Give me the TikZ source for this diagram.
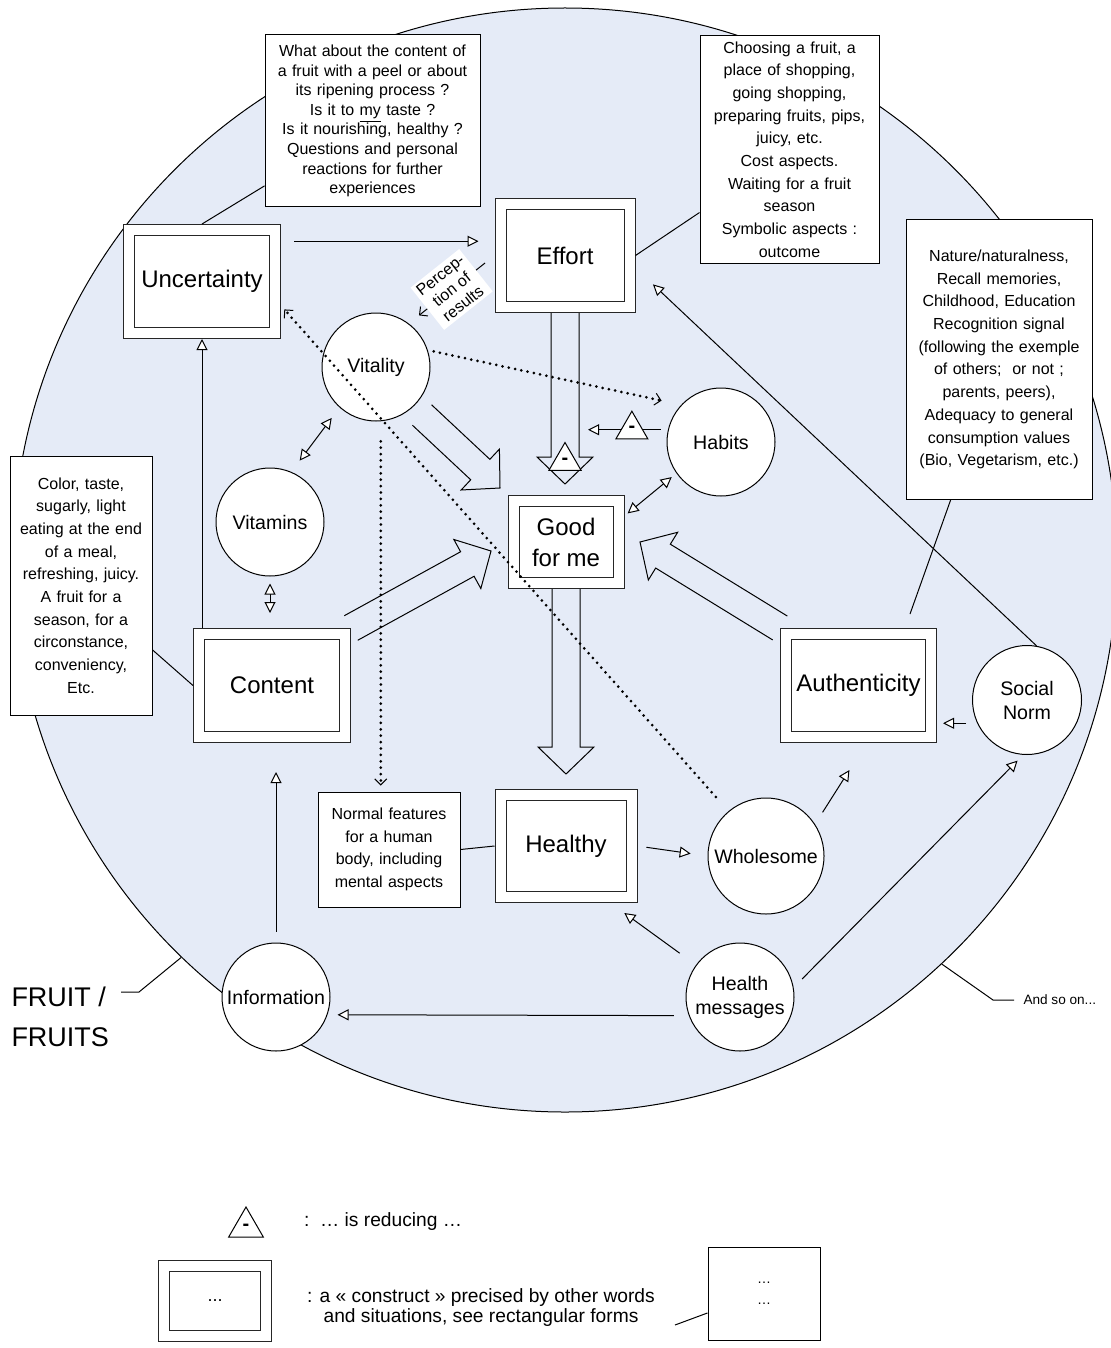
\documentclass[tikz,border=0pt]{standalone}
\usepackage{fontspec}
\setmainfont{Liberation Sans}
\usepackage{tikz}
\usetikzlibrary{shapes.geometric, arrows.meta, calc}
\definecolor{fruitblue}{RGB}{229,235,247}
\tikzstyle{note} = [rectangle, draw=black, fill=white, align=center, inner sep=3pt, font=\fontsize{8}{11.35}\selectfont]
\tikzstyle{construct} = [rectangle, draw=black!85, double, double distance=5pt, fill=white, outer sep=3pt, minimum width=73pt, minimum height=51.5pt, align=center, font=\fontsize{12}{15.5}\selectfont]
\tikzstyle{concept} = [circle, draw=black, fill=white, minimum size=54pt, inner sep=0pt, align=center, font=\fontsize{9.8}{12}\selectfont]
\tikzstyle{reducer} = [regular polygon, regular polygon sides=3, draw=black, fill=white, minimum size=18.5pt, inner sep=0pt, font=\fontsize{10}{10}\bfseries\selectfont]
\tikzstyle{arrow} = [-{Triangle[open, fill=white, length=5.5pt, width=5.5pt]}]
\tikzstyle{biarrow} = [{Triangle[open, fill=white, length=5.5pt, width=5.5pt]}-{Triangle[open, fill=white, length=5.5pt, width=5.5pt]}]
\tikzstyle{barb} = [-{Straight Barb[length=3pt, width=6pt]}]
\tikzstyle{dotarrow} = [line width=1.5pt, line cap=round, dash pattern=on 0pt off 3.2pt, -{Straight Barb[length=3pt, width=6pt, line width=0.5pt]}]
\tikzstyle{perception} = [fill=white, inner sep=1.5pt, align=center, font=\fontsize{8}{9.2}\selectfont]
% hollow block arrow, open at the tail
\newcommand{\fatarrow}[2]{%
	\coordinate (neck) at ($(#2)!13.5pt!(#1)$);
	\draw ($(#1)!7pt!90:(#2)$) -- ($(neck)!7pt!-90:(#1)$) -- ($(neck)!14pt!-90:(#1)$) -- (#2) -- ($(neck)!14pt!90:(#1)$) -- ($(neck)!7pt!90:(#1)$) -- ($(#1)!7pt!-90:(#2)$);
}

\begin{document}
\begin{tikzpicture}[x=0.5pt, y=-0.5pt, line width=0.5pt]
	\useasboundingbox (0,0) rectangle (1110,1348);
	\coordinate (fruit) at (565,560);
	\coordinate (question) at (372.5,121);
	\coordinate (choosing) at (789.5,149.5);
	\coordinate (nature) at (999,359.5);
	\coordinate (color) at (81,585.5);
	\coordinate (normal) at (389,849.5);
	\coordinate (uncertainty) at (202,281.5);
	\coordinate (effort) at (565,255.5);
	\coordinate (goodforme) at (566,542);
	\coordinate (content) at (272,685.5);
	\coordinate (authenticity) at (858.5,685.5);
	\coordinate (healthy) at (566,846);
	\coordinate (vitality) at (376,367);
	\coordinate (vitamins) at (270,522);
	\coordinate (habits) at (721,442);
	\coordinate (wholesome) at (766,856);
	\coordinate (healthmsg) at (740,997);
	\coordinate (information) at (276,997);
	\coordinate (socialnorm) at (1027,700);
	% free ends
	\coordinate (vg-tail) at (422,415);
	\coordinate (vg-tip) at (500,488);
	\coordinate (cg-tip) at (491,551);
	\coordinate (ag-tip) at (640,542);
	\coordinate (eg-tip) at (565,484);
	\coordinate (gh-tip) at (566,774);
	\coordinate (natend) at (910,614);
	\coordinate (fruitbend) at (139,992);
	\coordinate (fruitend) at (121,992);
	\coordinate (andbend) at (993,1000);
	\coordinate (legendend) at (675,1325);
	% Fruit / fruits
	\node[name=fruit, circle, draw=black, fill=fruitblue, minimum size=552pt, inner sep=0pt] at (fruit) {};
	\node[name=fruitlabel, anchor=west, align=left, inner sep=0pt, font=\fontsize{13.5}{20}\selectfont] at (11,1017) {FRUIT /\\FRUITS};
	\node[name=andso, anchor=west, inner sep=4.5pt, font=\fontsize{6.8}{8}\selectfont] at (1014,1000) {And so on...};
	% Notes
	\begin{scope}[every node/.style={note}]
	\node[name=question, text width=100pt, inner sep=3.75pt, minimum height=86pt, font=\fontsize{8}{9.8}\selectfont] at (question) {What about the content of\\a fruit with a peel or about\\its ripening process ?\\Is it to \underline{my} taste ?\\Is it nourishing, healthy ?\\Questions and personal\\reactions for further\\experiences};
	\node[name=choosing, text width=83.5pt, minimum height=112.5pt] at (choosing) {Choosing a fruit, a\\place of shopping,\\going shopping,\\preparing fruits, pips,\\juicy, etc.\\Cost aspects.\\Waiting for a fruit\\season\\Symbolic aspects :\\outcome};
	\node[name=nature, text width=87pt, minimum height=139.5pt] at (nature) {Nature/naturalness,\\Recall memories,\\Childhood, Education\\Recognition signal\\(following the exemple\\of others;\ \ or not ;\\parents, peers),\\Adequacy to general\\consumption values\\(Bio, Vegetarism, etc.)};
	\node[name=color, text width=65pt, minimum height=129.5pt] at (color) {Color, taste,\\sugarly, light\\eating at the end\\of a meal,\\refreshing, juicy.\\A fruit for a\\season, for a\\circonstance,\\conveniency,\\Etc.};
	\node[name=normal, text width=65pt, minimum height=57.5pt] at (normal) {Normal features\\for a human\\body, including\\mental aspects};
	\end{scope}
	% Constructs
	\begin{scope}[every node/.style={construct}]
	\node[name=uncertainty] at (uncertainty) {Uncertainty};
	\node[name=effort, minimum width=64.5pt] at (effort) {Effort};
	\node[name=goodforme, minimum width=52.5pt, minimum height=41pt] at (goodforme) {Good\\for me};
	\node[name=content] at (content) {Content};
	\node[name=authenticity, minimum width=72.5pt] at (authenticity) {Authenticity};
	\node[name=healthy, minimum width=65.5pt, minimum height=51pt] at (healthy) {Healthy};
	\end{scope}
	% Concepts
	\begin{scope}[every node/.style={concept}]
	\node[name=vitality] at (vitality) {Vitality};
	\node[name=vitamins] at (vitamins) {Vitamins};
	\node[name=habits] at (habits) {Habits};
	\node[name=wholesome, minimum size=58pt] at (wholesome) {Wholesome};
	\node[name=healthmsg] at (healthmsg) {Health\\messages};
	\node[name=information] at (information) {Information};
	\node[name=socialnorm, minimum size=54.5pt] at (socialnorm) {Social\\Norm};
	\end{scope}
	% leaders
	\draw (uncertainty.north) -- (question.211);
	\draw (effort.east) -- (choosing.215);
	\draw (color.-42) -- (content.west);
	\draw (nature.-109) -- (natend);
	\draw (normal.east) -- (healthy.west);
	\draw (fruit.226) -- (fruitbend) -- (fruitend);
	\draw (fruit.-47) -- (andbend) -- (andso.west);
	% block arrows
	\fatarrow{vg-tail}{vg-tip}
	\fatarrow{content.north east}{cg-tip}
	\fatarrow{authenticity.north west}{ag-tip}
	\fatarrow{effort.south}{eg-tip}
	\fatarrow{goodforme.south}{gh-tip}
	\node[reducer, name=effred] at (565,461) {-};
	% arrows
	\draw [arrow, shorten <=6.5pt, shorten >=8pt] (uncertainty.27) -- (uncertainty.27 -| effort.west);
	\draw [arrow] (uncertainty.south |- content.north) -- (uncertainty.south);
	\draw [arrow, shorten <=5.5pt, shorten >=14.5pt] (information.north) -- (information.north |- content.south);
	\draw [biarrow, shorten <=3.5pt, shorten >=7.5pt] (vitamins.south) -- (vitamins.south |- content.north);
	\draw [biarrow, shorten <=7pt, shorten >=6.5pt] (vitamins.67) -- (vitality.228);
	\draw [barb, shorten <=6pt, shorten >=6.5pt] (effort.west) -- node[perception, sloped] {Percep-\\tion of\\results} (vitality.53);
	\draw [arrow, shorten <=3.5pt, shorten >=11.5pt] (habits.167) -- node[reducer, pos=0.35, name=habred] {-} (habits.167 -| effort.south);
	\draw [biarrow, shorten <=2pt, shorten >=3pt] (goodforme.24) -- (habits.215);
	\draw [arrow, shorten >=12pt] (socialnorm.80) -- (effort.-10);
	\draw [arrow, shorten <=5.5pt, shorten >=3pt] (socialnorm.205) -- (socialnorm.205 -| authenticity.east);
	\draw [arrow, shorten <=7pt, shorten >=16pt] (wholesome.33) -- (authenticity.-82);
	\draw [arrow, shorten <=4.5pt, shorten >=8.5pt] (healthy.east) -- (wholesome.west);
	\draw [arrow, shorten <=10pt, shorten >=8.5pt] (healthmsg.144) -- (healthy.-52);
	\draw [arrow, shorten <=6pt, shorten >=4pt] (healthmsg.10) -- (socialnorm.266);
	\draw [arrow, shorten <=7.5pt, shorten >=5pt] (healthmsg.200) -- (information.-19);
	% dotted links
	\draw [dotarrow, shorten <=9.5pt, shorten >=2.5pt] (wholesome.130) -- (uncertainty.-17);
	\draw [dotarrow, shorten <=3pt, shorten >=10pt] (vitality.18) -- (habits.137);
	\draw [dotarrow, shorten <=10pt, shorten >=3pt] (vitality.-85) -- (vitality.-85 |- normal.north);
	% Legend
	\node[reducer, name=legendreducer, minimum size=20pt] at (246,1227) {-};
	\node[name=reducetext, anchor=west, font=\fontsize{9.6}{10}\selectfont] at (297,1222) {:\ \ … is reducing …};
	\node[construct, name=legendbox, minimum width=50.6pt, minimum height=34.6pt, font=\fontsize{9}{10}\selectfont] at (215,1301) {...};
	\node[name=constructtext, align=center, font=\fontsize{9.6}{10}\selectfont] at (481,1307.5) {: a « construct » precised by other words\\and situations, see rectangular forms};
	\node[note, name=notebox, minimum width=56pt, minimum height=46.5pt, font=\fontsize{7}{10.5}\selectfont] at (764,1293.5) {…\\…};
	\draw (notebox.199) -- (legendend);
\end{tikzpicture}
\end{document}
